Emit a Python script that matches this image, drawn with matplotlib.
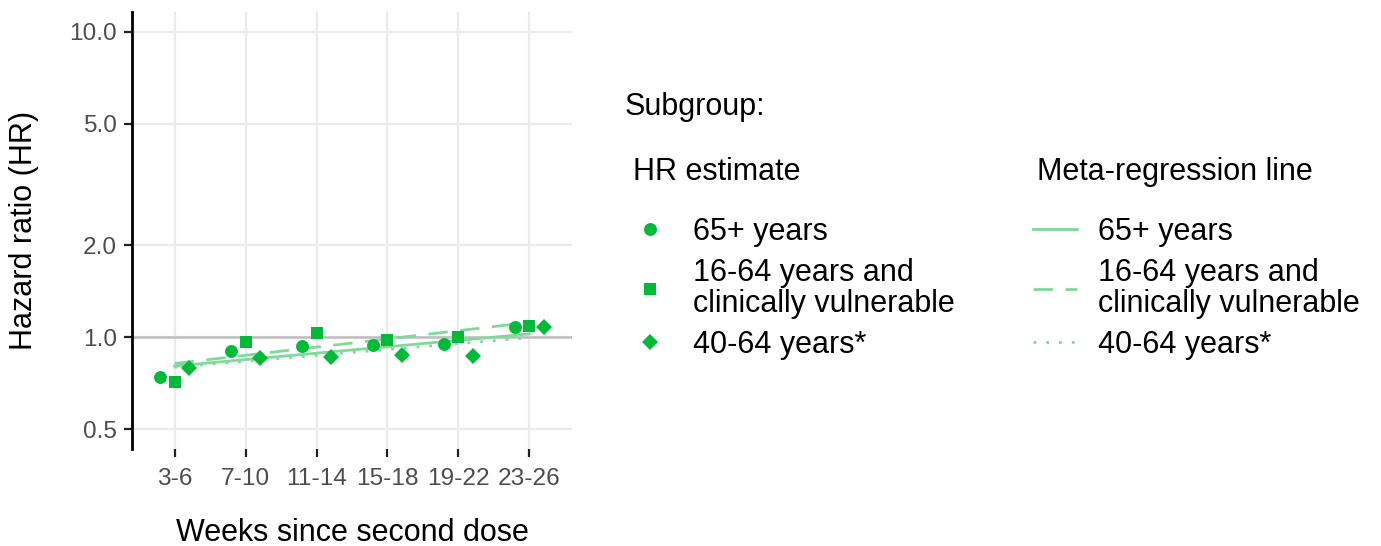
import matplotlib
matplotlib.use("Agg")
import matplotlib.pyplot as plt
import numpy as np

plt.rcParams['font.family'] = ['Liberation Sans', 'DejaVu Sans']

# week intervals since second dose
weeks = ["3-6", "7-10", "11-14", "15-18", "19-22", "23-26"]
groups = ["65+ years", "16-64 years and\nclinically vulnerable", "40-64 years*"]

# HR estimates
hr_65 = [0.742, 0.902, 0.937, 0.942, 0.953, 1.084]
hr_16 = [0.714, 0.965, 1.030, 0.978, 0.998, 1.089]
hr_40 = [0.790, 0.852, 0.860, 0.873, 0.869, 1.084]

# meta-regression lines (value at first and last interval)
fit_65 = [0.805, 1.025]
fit_16 = [0.820, 1.118]
fit_40 = [0.798, 0.996]

green = "#00BA38"
light = "#7FD99A"

fig = plt.figure(figsize=(13.81, 5.46), dpi=100)
ax = fig.add_axes([132 / 1381, 1 - 449 / 546, 440 / 1381, 437 / 546])

x = np.arange(1, len(weeks) + 1)
xfit = [x[0], x[-1]]

ax.axhline(1.0, color="#BEBEBE", lw=1.8, zorder=1)

l1, = ax.plot(xfit, fit_65, color=light, lw=2.0, zorder=2)
l2, = ax.plot(xfit, fit_16, color=light, lw=2.0, dashes=(7, 4.5), zorder=2)
l3, = ax.plot(xfit, fit_40, color=light, lw=2.0, dashes=(1, 3.6), zorder=2)

m1, = ax.plot(x - 0.2, hr_65, 'o', color=green, ms=9.3, mew=0, zorder=3)
m2, = ax.plot(x, hr_16, 's', color=green, ms=8.6, mew=0, zorder=3)
m3, = ax.plot(x + 0.2, hr_40, 'D', color=green, ms=8.0, mew=0, zorder=3)

ax.set_yscale('log')
ax.set_ylim(10 ** (np.log10(0.5) - 0.065), 10 ** (1 + 0.065))
ax.set_xlim(0.4, 6.6)
ax.set_yticks([0.5, 1, 2, 5, 10])
ax.set_yticklabels(["0.5", "1.0", "2.0", "5.0", "10.0"])
ax.minorticks_off()
ax.set_xticks(x)
ax.set_xticklabels(weeks)

ax.grid(True, color="#EBEBEB", lw=1.6, zorder=0)
ax.set_axisbelow(True)
for s in ['top', 'right', 'bottom']:
    ax.spines[s].set_visible(False)
ax.spines['left'].set_linewidth(2.0)
ax.spines['left'].set_color('black')
ax.tick_params(axis='both', labelsize=17.6, labelcolor="#4D4D4D",
               color="#222222", width=1.6, length=5.8)
ax.tick_params(axis='y', pad=5)
ax.tick_params(axis='x', pad=8)

ax.set_xlabel("Weeks since second dose", fontsize=22, labelpad=20)
ax.set_ylabel("Hazard ratio (HR)", fontsize=22, labelpad=22)

fig.text(625 / 1381, 1 - 107 / 546, "Subgroup:", fontsize=22,
         ha='left', va='center')
fig.text(633 / 1381, 1 - 172 / 546, "HR estimate", fontsize=22,
         ha='left', va='center')
fig.text(1037 / 1381, 1 - 172 / 546, "Meta-regression line", fontsize=22,
         ha='left', va='center')

common = dict(loc='upper left', frameon=False, fontsize=22,
              borderpad=0, borderaxespad=0,
              handlelength=1.44, handletextpad=0.7, labelspacing=0.35)
leg1 = fig.legend([m1, m2, m3], groups,
                  bbox_to_anchor=(628 / 1381, 1 - 217 / 546), **common)
leg2 = fig.legend([l1, l2, l3], groups,
                  bbox_to_anchor=(1033 / 1381, 1 - 217 / 546), **common)
for leg in (leg1, leg2):
    for t in leg.get_texts():
        t.set_linespacing(1.05)

fig.savefig("out.png", dpi=100)
